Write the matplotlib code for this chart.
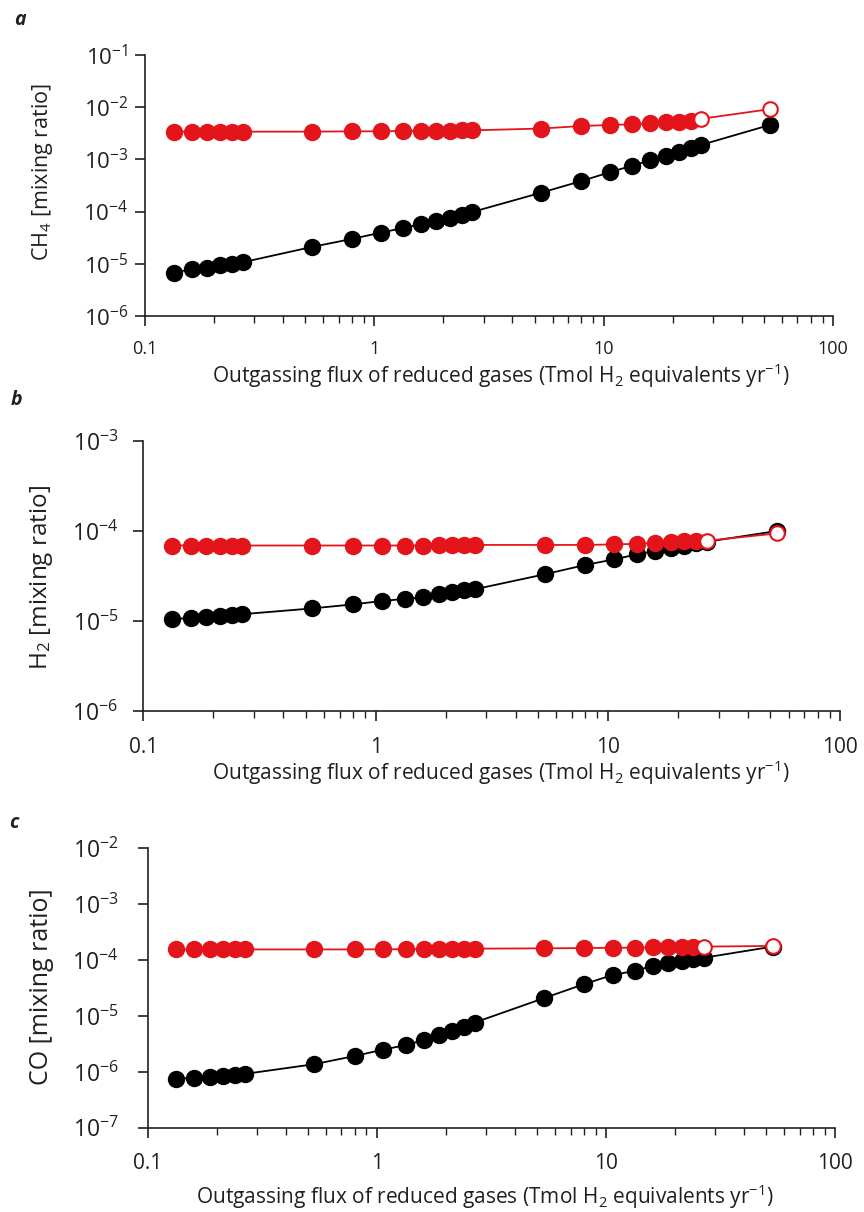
import math
import matplotlib
matplotlib.use("Agg")
import matplotlib.pyplot as plt
from matplotlib.ticker import FixedLocator, LogLocator, NullLocator, NullFormatter

plt.rcParams['font.family'] = ['Open Sans', 'DejaVu Sans']
plt.rcParams['mathtext.fontset'] = 'custom'
plt.rcParams['mathtext.rm'] = 'Open Sans'
plt.rcParams['mathtext.it'] = 'Open Sans:italic'
plt.rcParams['mathtext.default'] = 'regular'

# ---- data ----
flux = [0.1333, 0.16, 0.1867, 0.2133, 0.24, 0.2667, 0.5333, 0.8, 1.0667, 1.3333,
        1.6, 1.8667, 2.1333, 2.4, 2.6667, 5.333, 8.0, 10.667, 13.333, 16.0,
        18.667, 21.333, 24.0, 26.667, 53.333]

ch4_black = [6.8e-6, 7.85e-6, 8.4e-6, 9.3e-6, 1.0e-5, 1.07e-5, 2.1e-5, 3.0e-5, 3.95e-5, 4.85e-5,
             5.8e-5, 6.7e-5, 7.4e-5, 8.6e-5, 9.8e-5, 2.3e-4, 3.85e-4, 5.7e-4, 7.6e-4, 9.6e-4,
             1.17e-3, 1.4e-3, 1.65e-3, 1.9e-3, 4.6e-3]
ch4_red = [3.4e-3, 3.4e-3, 3.4e-3, 3.4e-3, 3.4e-3, 3.4e-3, 3.4e-3, 3.45e-3, 3.45e-3, 3.5e-3,
           3.5e-3, 3.55e-3, 3.55e-3, 3.6e-3, 3.6e-3, 3.9e-3, 4.36e-3, 4.57e-3, 4.7e-3, 4.9e-3,
           5.1e-3, 5.2e-3, 5.5e-3, 6.0e-3, 9.2e-3]

h2_black = [1.05e-5, 1.08e-5, 1.1e-5, 1.13e-5, 1.16e-5, 1.19e-5, 1.38e-5, 1.53e-5, 1.67e-5, 1.76e-5,
            1.83e-5, 1.99e-5, 2.1e-5, 2.2e-5, 2.25e-5, 3.3e-5, 4.2e-5, 4.85e-5, 5.5e-5, 6.0e-5,
            6.5e-5, 6.9e-5, 7.3e-5, 7.6e-5, 1.0e-4]
h2_red = [6.9e-5, 6.9e-5, 6.9e-5, 6.9e-5, 6.9e-5, 6.9e-5, 6.9e-5, 6.9e-5, 6.9e-5, 6.9e-5,
          6.9e-5, 6.95e-5, 6.95e-5, 6.95e-5, 7.0e-5, 7.0e-5, 7.0e-5, 7.1e-5, 7.2e-5, 7.4e-5,
          7.5e-5, 7.7e-5, 7.8e-5, 7.8e-5, 9.4e-5]

co_black = [7.4e-7, 7.9e-7, 8.2e-7, 8.5e-7, 8.8e-7, 9.2e-7, 1.37e-6, 1.92e-6, 2.5e-6, 3.0e-6,
            3.7e-6, 4.6e-6, 5.4e-6, 6.4e-6, 7.6e-6, 2.07e-5, 3.7e-5, 5.4e-5, 6.4e-5, 7.9e-5,
            9.0e-5, 9.6e-5, 1.03e-4, 1.1e-4, 1.74e-4]
co_red = [1.55e-4, 1.55e-4, 1.55e-4, 1.55e-4, 1.55e-4, 1.55e-4, 1.55e-4, 1.55e-4, 1.56e-4, 1.56e-4,
          1.57e-4, 1.58e-4, 1.58e-4, 1.59e-4, 1.6e-4, 1.62e-4, 1.64e-4, 1.66e-4, 1.67e-4, 1.68e-4,
          1.69e-4, 1.7e-4, 1.72e-4, 1.74e-4, 1.79e-4]
n_open = 2  # last red points drawn as open circles

ylabels = ['CH$_4$ [mixing ratio]', 'H$_2$ [mixing ratio]', 'CO [mixing ratio]']
panel_letters = ['a', 'b', 'c']
ylims = [(1e-6, 1e-1), (1e-6, 1e-3), (1e-7, 1e-2)]
xlabel = 'Outgassing flux of reduced gases (Tmol H$_2$ equivalents yr$^{-1}$)'
xticks = [0.1, 1, 10, 100]
xticklabels = ['0.1', '1', '10', '100']

RED = '#E3151B'
BLACK = '#000000'
AX = '#231F20'

W, H = 864, 1212
fig = plt.figure(figsize=(W / 100, H / 100), dpi=100)

# pixel boxes: left, right, top, bottom
boxes = [(145, 833, 55, 316), (143.3, 840.3, 441, 711), (147.7, 835.3, 848.3, 1127.7)]
ytick_fs = [16, 16.5, 16.5]
ytick_pad = [5, 11, 14]
xtick_fs = [13, 15, 15]
xtick_pad = [10, 12, 11]
ylabel_fs = [15.5, 17.5, 18]
ylabel_x = [43, 42, 42]
ylabel_y = [172, 577, 987]
letter_xy = [(14, 20), (11, 400), (9, 823)]
xlabel_xy = [(501, 376), (501, 773), (485, 1197)]

series = [(ch4_black, ch4_red), (h2_black, h2_red), (co_black, co_red)]

for i, (l, r, t, b) in enumerate(boxes):
    ax = fig.add_axes([l / W, 1 - b / H, (r - l) / W, (b - t) / H])
    blk, red = series[i]
    ax.plot(flux, blk, '-', color=BLACK, lw=1.3, marker='o', ms=11.5,
            mfc=BLACK, mec=BLACK, zorder=3, clip_on=False)
    ax.plot(flux, red, '-', color=RED, lw=1.3, zorder=4, clip_on=False)
    ax.plot(flux[:-n_open], red[:-n_open], 'o', ms=11.5, mfc=RED, mec=RED,
            zorder=4, clip_on=False)
    ax.plot(flux[-n_open:], red[-n_open:], 'o', ms=10.5, mfc='white', mec=RED,
            mew=1.5, zorder=5, clip_on=False)
    ax.set_xscale('log')
    ax.set_yscale('log')
    ax.set_xlim(0.1, 100)
    ax.set_ylim(*ylims[i])
    for s in ['top', 'right']:
        ax.spines[s].set_visible(False)
    for s in ['left', 'bottom']:
        ax.spines[s].set_color(AX)
        ax.spines[s].set_linewidth(1.2)
    ax.xaxis.set_major_locator(FixedLocator(xticks))
    ax.set_xticklabels(xticklabels)
    ax.xaxis.set_minor_locator(LogLocator(base=10, subs=range(2, 10)))
    ax.xaxis.set_minor_formatter(NullFormatter())
    lo, hi = ylims[i]
    exps = list(range(int(round(math.log10(lo))), int(round(math.log10(hi))) + 1))
    ax.yaxis.set_major_locator(FixedLocator([10.0 ** e for e in exps]))
    ax.set_yticklabels(['10$^{%d}$' % e for e in exps])
    ax.yaxis.set_minor_locator(NullLocator())
    ax.tick_params(axis='both', which='major', direction='out', length=7,
                   width=1.2, color=AX, labelcolor='#231F20')
    ax.tick_params(axis='x', which='minor', direction='out', length=5,
                   width=1.0, color=AX)
    ax.tick_params(axis='y', labelsize=ytick_fs[i], pad=ytick_pad[i])
    ax.tick_params(axis='x', labelsize=xtick_fs[i], pad=xtick_pad[i])
    fig.text(ylabel_x[i] / W, 1 - ylabel_y[i] / H, ylabels[i], rotation=90,
             ha='center', va='center', fontsize=ylabel_fs[i], color='#231F20')
    fig.text(xlabel_xy[i][0] / W, 1 - xlabel_xy[i][1] / H, xlabel, ha='center',
             va='center', fontsize=15, color='#231F20')
    fig.text(letter_xy[i][0] / W, 1 - letter_xy[i][1] / H, panel_letters[i],
             ha='left', va='center', fontsize=14, fontweight='bold',
             fontstyle='italic', color='#231F20')

fig.savefig('out.png', dpi=100)
